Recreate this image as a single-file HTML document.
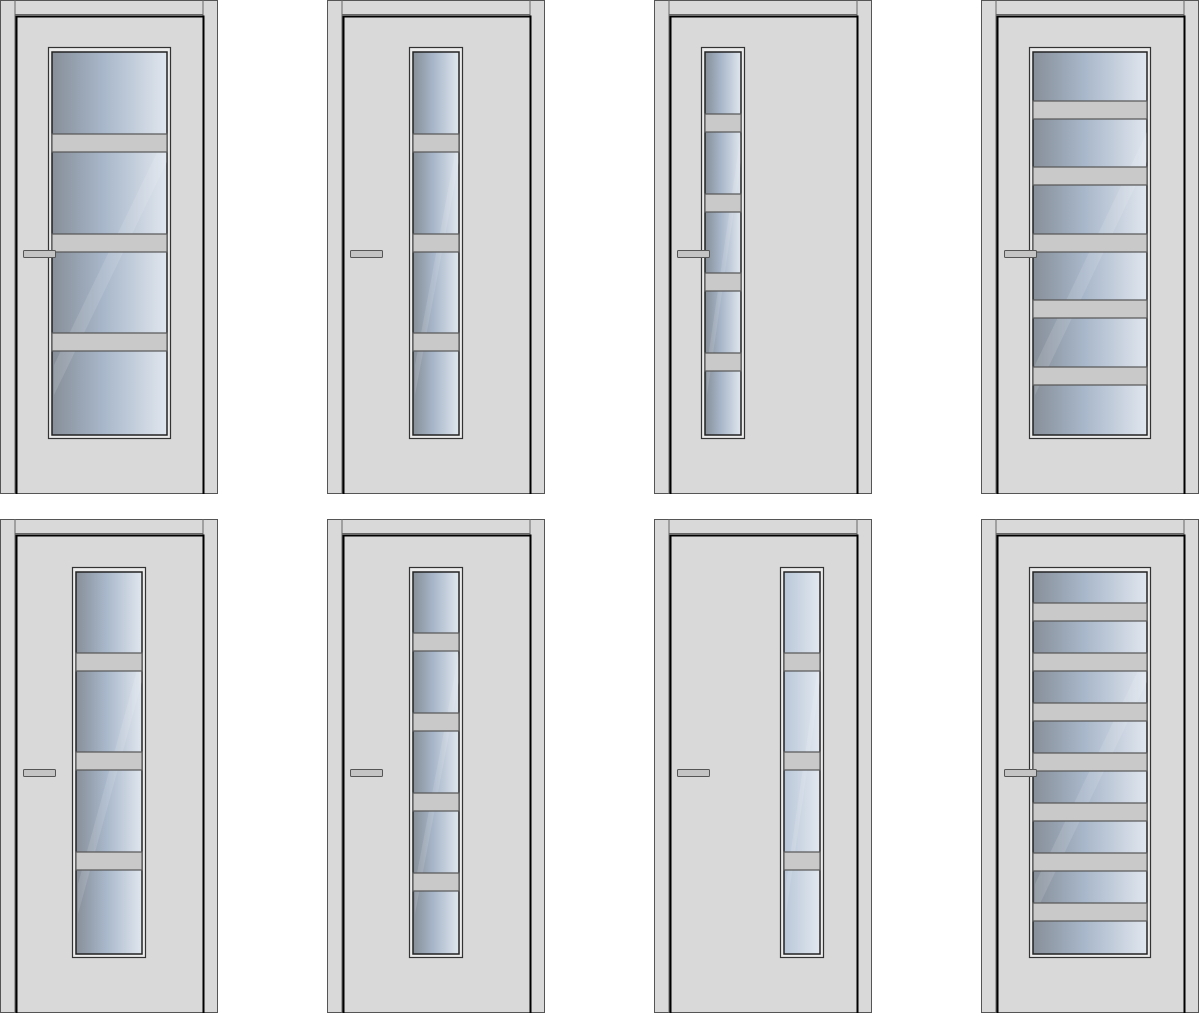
<!DOCTYPE html>
<html><head><meta charset="utf-8"><style>
html,body{margin:0;padding:0;background:#fff;width:1200px;height:1013px;overflow:hidden;}
svg{display:block;}
</style></head><body>
<svg id="s" width="1200" height="1013" xmlns="http://www.w3.org/2000/svg">
<defs>
<linearGradient id="g" x1="0" y1="0" x2="1" y2="0">
<stop offset="0" stop-color="#878f99"/><stop offset="0.45" stop-color="#a8b7ca"/><stop offset="1" stop-color="#e0e6ee"/>
</linearGradient>
<linearGradient id="gl" x1="0" y1="0" x2="1" y2="0">
<stop offset="0" stop-color="#b9c7d8"/><stop offset="1" stop-color="#e2e8f0"/>
</linearGradient>
</defs>
</svg>
<script>
var s=document.getElementById('s'),h='';
function door(ox,oy,win,bars,hy,light){
 h+='<g transform="translate('+ox+','+oy+')">';
 h+='<rect x="0.5" y="0.5" width="217" height="493" fill="#d9d9d9" stroke="#555" stroke-width="1"/>';
 h+='<line x1="15" y1="0" x2="15" y2="494" stroke="#666"/><line x1="203" y1="0" x2="203" y2="494" stroke="#666"/><line x1="15" y1="14.5" x2="203" y2="14.5" stroke="#666"/>';
 h+='<path d="M16.5,494 V16.5 H203.5 V494" fill="none" stroke="#000" stroke-width="2"/>';
 var x1=win[0],x2=win[1],y1=win[2]-oy,y2=win[3]-oy;
 h+='<rect x="'+(x1+0.5)+'" y="'+(y1+0.5)+'" width="'+(x2-x1-1)+'" height="'+(y2-y1-1)+'" fill="#ececec" stroke="#333" stroke-width="1.2"/>';
 var ix1=x1+4,ix2=x2-4,iy1=y1+5,iy2=y2-4;
 h+='<rect x="'+ix1+'" y="'+iy1+'" width="'+(ix2-ix1)+'" height="'+(iy2-iy1)+'" fill="url(#'+(light?'gl':'g')+')" stroke="#222" stroke-width="1.5"/>';
 h+='<polygon points="'+(ix2)+','+(iy1+80)+' '+ix2+','+(iy1+110)+' '+(ix1+2)+','+(iy2-40)+' '+(ix1+2)+','+(iy2-70)+'" fill="#fff" opacity="0.12"/>';
 bars.forEach(function(b){b-=oy;h+='<rect x="'+ix1+'" y="'+b+'" width="'+(ix2-ix1)+'" height="18" fill="#c9c9c9" stroke="#555" stroke-width="1.2"/>';});
 h+='<rect x="23.5" y="'+(hy-oy+0.5)+'" width="32" height="7" rx="1" fill="#c4c4c4" stroke="#555"/>';
 h+='</g>';
}
door(0,0,[48,171,47,439],[134,234,333],250);
door(327,0,[82,136,47,439],[134,234,333],250);
door(654,0,[47,91,47,439],[114,194,273,353],250);
door(981,0,[48,170,47,439],[101,167,234,300,367],250);
door(0,519,[72,146,567,958],[653,752,852],769);
door(327,519,[82,136,567,958],[633,713,793,873],769);
door(654,519,[126,170,567,958],[653,752,852],769,true);
door(981,519,[48,170,567,958],[603,653,703,753,803,853,903],769);
s.insertAdjacentHTML('beforeend',h);
</script>
</body></html>
